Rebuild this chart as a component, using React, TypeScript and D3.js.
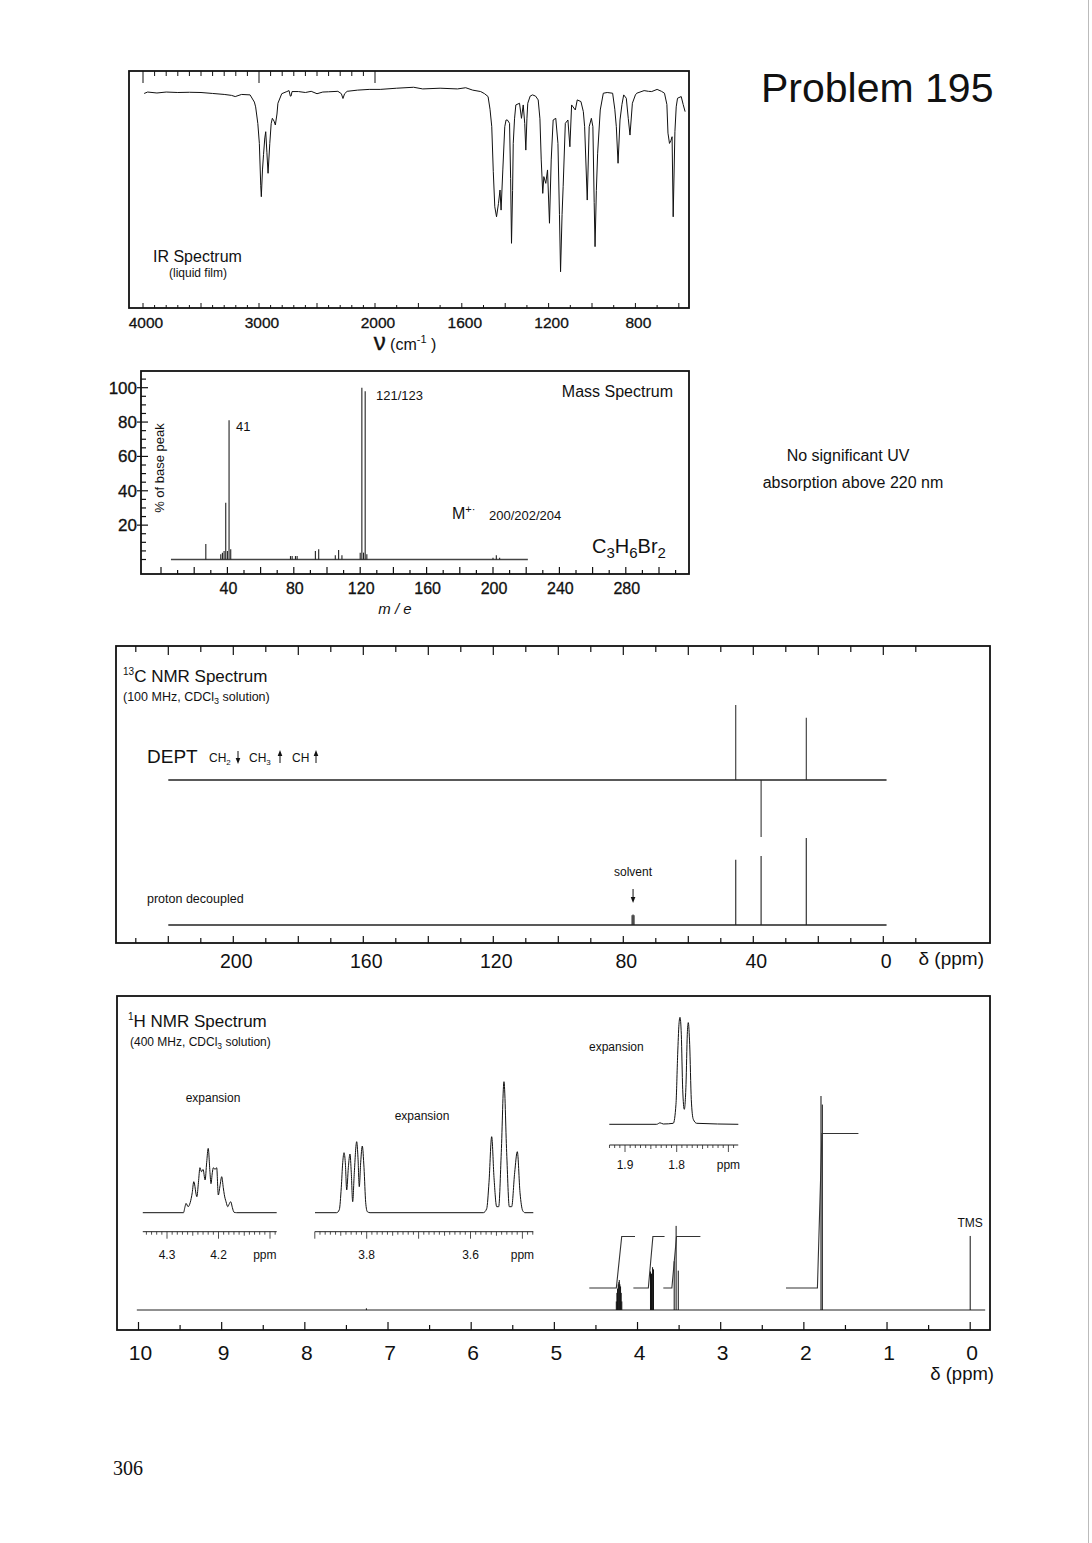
import React from "react";
import * as d3 from "d3";

const FONT = "'Liberation Sans', Arial, Helvetica, sans-serif";

// ---------------- IR spectrum: [wavenumber cm-1, transmittance %] ----------------
const irSpectrum: [number, number][] = [
  [3990, 90.6], [3960, 91.2], [3880, 90.8], [3800, 91.2], [3700, 91.0], [3600, 91.1], [3500, 91.0],
  [3400, 90.6], [3300, 90.2], [3237, 89.8], [3205, 89.3], [3150, 90.2], [3077, 90], [3040, 87],
  [3029, 85], [3010, 78], [2997, 69.7], [2985, 52], [2980, 47.4], [2970, 58.6], [2961, 65],
  [2950, 72], [2942, 74.6], [2932, 66], [2922, 57.2], [2907, 69.7], [2895, 78], [2885, 80.2],
  [2870, 79], [2859, 77.4], [2845, 82], [2837, 86.5], [2804, 90.5], [2760, 91.4], [2741, 91.8],
  [2730, 89.5], [2724, 89.5], [2715, 91.4], [2660, 91.4], [2600, 91], [2550, 91.5], [2500, 90.5],
  [2450, 91.2], [2400, 91.3], [2320, 91.5], [2290, 90.5], [2276, 88.5], [2262, 90.5], [2240, 91.5],
  [2150, 92], [2050, 92.3], [1976, 92.3], [1900, 92.8], [1822, 93.2], [1780, 92.5], [1700, 92.8],
  [1620, 92.5], [1582, 93], [1550, 92], [1513, 91.4], [1495, 90.5], [1479, 89.3], [1470, 84],
  [1462, 76.7], [1455, 58], [1448, 43.2], [1440, 39], [1431, 44.6], [1424, 50.2], [1419, 41.8],
  [1411, 58.6], [1402, 76.7], [1396, 79.5], [1390, 79.5], [1380, 78.1], [1375, 55], [1371, 27.9],
  [1366, 50], [1363, 69.7], [1357, 80], [1351, 85.8], [1334, 86.5], [1325, 80.2], [1317, 85.8],
  [1310, 78], [1305, 66.9], [1300, 80], [1296, 86.5], [1285, 89.5], [1274, 90.0], [1260, 89.5],
  [1248, 87.9], [1240, 80], [1234, 62.8], [1227, 48.8], [1222, 55.8], [1213, 53], [1205, 58.6],
  [1196, 36.3], [1188, 62.8], [1179, 79.5], [1167, 80.2], [1157, 69.7], [1150, 40], [1145, 16],
  [1138, 40], [1133, 51.6], [1123, 78.1], [1111, 79.5], [1102, 68.3], [1094, 85.8], [1077, 83.7],
  [1068, 87.9], [1051, 87.2], [1040, 83], [1034, 76.7], [1022, 46], [1013, 76.7], [1003, 80.2],
  [996, 76.7], [990, 45], [986, 26.5], [980, 50], [974, 65.6], [962, 83.7], [948, 90.7], [930, 91],
  [905, 90.7], [895, 84], [888, 76.7], [880, 61.4], [871, 79.5], [862, 86], [854, 90], [842, 88.6],
  [833, 80.2], [825, 73.2], [814, 86.5], [800, 90], [794, 90.7], [760, 91.8], [740, 91.5], [725, 91.4],
  [700, 92.3], [680, 91.5], [666, 90.7], [655, 86], [650, 74], [643, 69.7], [636, 71], [631, 72.5],
  [626, 39], [618, 74.6], [612, 85], [606, 88.6], [589, 89.3], [580, 86], [571, 83],
];
const irTickLabels = [4000, 3000, 2000, 1600, 1200, 800];

// ---------------- Mass spectrum ----------------
const massMz = [27, 36, 37, 38, 39, 40, 41, 42, 78, 79, 81, 82, 93, 95, 105, 107, 109, 120, 121, 122, 123, 124, 200, 202, 204];
const massAbundance = [9, 3, 4, 5, 33, 5, 81, 6, 2, 2, 2, 2, 5, 6, 2.5, 5.5, 2.5, 4, 100, 4, 98, 3, 1, 2.5, 1];
const massYLabels = [20, 40, 60, 80, 100];
const massXLabels = [40, 80, 120, 160, 200, 240, 280];

// ---------------- 13C NMR ----------------
const deptPpm = [45.4, 37.6, 23.7];
const deptIntensity = [100, -76, 83];
const decoupledPpm = [77.3, 77.0, 76.7, 45.4, 37.6, 23.7];
const decoupledIntensity = [13, 14, 13, 87, 92, 116];
const c13Labels = [200, 160, 120, 80, 40, 0];

// ---------------- 1H NMR ----------------
const hPpm = [7.26, 4.255, 4.248, 4.24, 4.232, 4.225, 4.219, 4.212, 4.204, 4.196, 4.189,
  3.844, 3.832, 3.819, 3.808, 3.559, 3.536, 3.51, 1.794, 1.778, 0.0];
const hIntensity = [0.8, 4, 8, 10, 12, 13, 14, 12, 11, 8, 4, 18, 17, 20, 19, 22.8, 39.3, 18.4, 100, 96, 34.6];
const hIntegrals: [number, number][][] = [
  [[4.58, 0], [4.255, 0], [4.19, 1], [4.03, 1]],
  [[4.05, 0], [3.87, 0], [3.815, 1], [3.675, 1]],
  [[3.69, 0], [3.587, 0], [3.531, 1], [3.244, 1]],
  [[2.215, 0], [1.837, 0], [1.783, 3], [1.344, 3]],
];
const hLabels = [10, 9, 8, 7, 6, 5, 4, 3, 2, 1, 0];

const inset1Trace: [number, number][] = [
  [4.347, 0], [4.268, 0], [4.265, 6], [4.263, 9.3], [4.259, 6], [4.255, 10], [4.251, 20], [4.248, 31],
  [4.242, 16], [4.239, 30], [4.236, 45], [4.233, 41], [4.23, 43.3], [4.226, 32.7], [4.223, 50],
  [4.22, 64.3], [4.2165, 40], [4.2146, 29], [4.212, 40], [4.21, 45], [4.2068, 43.3], [4.2035, 45],
  [4.2004, 17.7], [4.197, 27], [4.1938, 36], [4.1907, 25], [4.1887, 18], [4.1854, 11], [4.182, 6],
  [4.179, 9], [4.1763, 11], [4.173, 5], [4.17, 0.5], [4.1647, 0], [4.087, 0],
];
const inset2Trace: [number, number][] = [
  [3.8996, 0], [3.8578, 0], [3.8528, 3], [3.849, 25], [3.8462, 50], [3.8437, 60], [3.8412, 50],
  [3.8385, 22.7], [3.8354, 45], [3.8322, 58.7], [3.8297, 40], [3.827, 11], [3.8239, 40], [3.8193, 71],
  [3.8168, 55], [3.8143, 26], [3.8116, 50], [3.8085, 66.7], [3.8052, 45], [3.8019, 10], [3.7988, 1],
  [3.7936, 0], [3.5753, 0], [3.5688, 4], [3.5644, 30], [3.5592, 76], [3.5547, 35], [3.5495, 6],
  [3.5457, 6], [3.5407, 60], [3.5355, 131], [3.5303, 60], [3.5252, 6], [3.5207, 6], [3.5149, 40],
  [3.5098, 61], [3.5046, 20], [3.4994, 2], [3.495, 0], [3.479, 0],
];
const inset3Trace: [number, number][] = [
  [1.9304, 0], [1.8387, 0], [1.8323, 1.5], [1.8259, 0.3], [1.8066, 1], [1.8014, 20], [1.7981, 70],
  [1.7956, 100], [1.7936, 107], [1.7911, 90], [1.7884, 35], [1.7853, 15], [1.782, 40], [1.7795, 90],
  [1.7776, 101.7], [1.7749, 80], [1.7718, 25], [1.7679, 5], [1.7613, 1], [1.6808, 0],
];

type InsetProps = {
  trace: [number, number][];
  domain: [number, number];
  range: [number, number];
  extent: [number, number];
  baseY: number;
  rulerY: number;
  labels: number[];
  ppmAt: number;
  labelY: number;
};

function Inset({ trace, domain, range, extent, baseY, rulerY, labels, ppmAt, labelY }: InsetProps) {
  const x = d3.scaleLinear().domain(domain).range(range);
  const y = d3.scaleLinear().domain([0, 100]).range([baseY, baseY - 100]);
  const line = d3
    .line<[number, number]>()
    .x((d) => x(d[0]))
    .y((d) => y(d[1]))
    .curve(d3.curveMonotoneX);
  const lo = Math.ceil(extent[1] * 100);
  const hi = Math.floor(extent[0] * 100);
  const ticks = d3.range(lo, hi + 1);
  return (
    <g>
      <path d={line(trace) || ""} fill="none" stroke="#111" strokeWidth={1} />
      <line x1={x(extent[0])} x2={x(extent[1])} y1={rulerY} y2={rulerY} stroke="#222" strokeWidth={1} />
      {ticks.map((t) => {
        const len = t % 10 === 0 ? 7 : t % 5 === 0 ? 4 : 3;
        return <line key={t} x1={x(t / 100)} x2={x(t / 100)} y1={rulerY} y2={rulerY + len} stroke="#222" strokeWidth={0.8} />;
      })}
      {labels.map((l) => (
        <text key={l} x={x(l)} y={labelY} fontSize={12} textAnchor="middle" fill="#111">
          {l.toFixed(1)}
        </text>
      ))}
      <text x={x(ppmAt)} y={labelY} fontSize={12} textAnchor="middle" fill="#111">ppm</text>
    </g>
  );
}

function ArrowV({ x, y1, y2, up }: { x: number; y1: number; y2: number; up: boolean }) {
  const head = up
    ? `M${x - 2.3},${y1 + 6} L${x + 2.3},${y1 + 6} L${x},${y1} Z`
    : `M${x - 2.3},${y2 - 6} L${x + 2.3},${y2 - 6} L${x},${y2} Z`;
  return (
    <g>
      <line x1={x} x2={x} y1={up ? y1 + 4 : y1} y2={up ? y2 : y2 - 4} stroke="#111" strokeWidth={1} />
      <path d={head} fill="#111" />
    </g>
  );
}

export default function App() {
  const W = 1092;
  const H = 1543;

  // IR scales
  const xIR = d3.scaleLinear().domain([4000, 2000, 560]).range([143, 375, 687.5]);
  const yIR = d3.scaleLinear().domain([0, 100]).range([310, 71]);
  const irLine = d3.line<[number, number]>().x((d) => xIR(d[0])).y((d) => yIR(d[1]));
  const irTicks = d3.range(4000, 1999, -100).concat(d3.range(1900, 599, -100));
  const irFrame = { l: 129, t: 71, r: 689, b: 308 };

  // Mass scales
  const xMS = d3.scaleLinear().domain([0, 300]).range([161, 659]);
  const yMS = d3.scaleLinear().domain([0, 100]).range([559.5, 387.7]);
  const msFrame = { l: 141, t: 371, r: 689, b: 574 };

  // 13C scales
  const xC = d3.scaleLinear().domain([0, 200]).range([883.3, 233.3]);
  const cFrame = { l: 116, t: 646, r: 990, b: 943 };
  const deptBase = 780;
  const decBase = 925;
  const yCint = d3.scaleLinear().domain([0, 100]).range([0, 75]);

  // 1H scales
  const xH = d3.scaleLinear().domain([10, 0]).range([138.5, 970.2]);
  const hFrame = { l: 117, t: 996, r: 990, b: 1330 };
  const hBase = 1310;
  const yHint = d3.scaleLinear().domain([0, 100]).range([0, 214]);
  const yInteg = d3.scaleLinear().domain([0, 1]).range([1288, 1236.5]);
  const integLine = d3.line<[number, number]>().x((d) => xH(d[0])).y((d) => yInteg(d[1]));

  return (
    <svg
      width={W}
      height={H}
      style={{ position: "absolute", left: 0, top: 0, background: "#fff" }}
      fontFamily={FONT}
    >
      <rect x={0} y={0} width={W} height={H} fill="#fff" />
      <line x1={1088.5} x2={1088.5} y1={0} y2={H} stroke="#bbb" strokeWidth={1} />

      {/* Title */}
      <text x={761} y={102} fontSize={41} fill="#111">Problem 195</text>
      <text x={848} y={461} fontSize={16} textAnchor="middle" fill="#111">No significant UV</text>
      <text x={853} y={488} fontSize={16} textAnchor="middle" fill="#111">absorption above 220 nm</text>
      <text x={113} y={1475} fontSize={20} fontFamily="'Liberation Serif', 'Times New Roman', serif" fill="#111">306</text>

      {/* ================= IR ================= */}
      <g>
        <rect x={irFrame.l} y={irFrame.t} width={irFrame.r - irFrame.l} height={irFrame.b - irFrame.t} fill="none" stroke="#111" strokeWidth={1.8} />
        {irTicks.map((wn) => {
          const major = wn >= 2000 ? wn % 500 === 0 : wn % 200 === 0;
          return (
            <line key={"b" + wn} x1={xIR(wn)} x2={xIR(wn)} y1={irFrame.b} y2={irFrame.b - (major ? 5 : 3)} stroke="#111" strokeWidth={1} />
          );
        })}
        {irTicks.filter((wn) => wn >= 2000).map((wn) => (
          <line key={"t" + wn} x1={xIR(wn)} x2={xIR(wn)} y1={irFrame.t} y2={irFrame.t + (wn % 1000 === 0 ? 12 : 5)} stroke="#111" strokeWidth={1} />
        ))}
        <path d={irLine(irSpectrum) || ""} fill="none" stroke="#111" strokeWidth={1} />
        {irTickLabels.map((v) => (
          <text key={v} x={xIR(v) + 3} y={328} fontSize={15.5} textAnchor="middle" fill="#111" stroke="#111" strokeWidth={0.3}>{v}</text>
        ))}
        <text x={405} y={350} textAnchor="middle" fill="#111">
          <tspan fontSize={24} stroke="#111" strokeWidth={0.4}>ν</tspan>
          <tspan fontSize={16}>{"  (cm"}</tspan>
          <tspan fontSize={11} dy={-7}>-1</tspan>
          <tspan fontSize={16} dy={7}>{" )"}</tspan>
        </text>
        <text x={153} y={262} fontSize={16} fill="#111">IR Spectrum</text>
        <text x={169} y={277} fontSize={12} fill="#111">(liquid film)</text>
      </g>

      {/* ================= Mass ================= */}
      <g>
        <rect x={msFrame.l} y={msFrame.t} width={msFrame.r - msFrame.l} height={msFrame.b - msFrame.t} fill="none" stroke="#111" strokeWidth={1.8} />
        {d3.range(0, 106, 5).map((v) => {
          const major = v % 20 === 0 && v > 0;
          return (
            <line key={v} x1={major ? 137 : 141} x2={major ? 148 : 146} y1={yMS(v)} y2={yMS(v)} stroke="#111" strokeWidth={1.2} />
          );
        })}
        {massYLabels.map((v) => (
          <text key={v} x={137} y={yMS(v) + 6} fontSize={17} textAnchor="end" fill="#111" stroke="#111" strokeWidth={0.3}>{v}</text>
        ))}
        {d3.range(0, 311, 10).map((v) => (
          <line key={v} x1={xMS(v)} x2={xMS(v)} y1={msFrame.b} y2={msFrame.b - (v % 20 === 0 ? 7 : 4)} stroke="#111" strokeWidth={1.2} />
        ))}
        {massXLabels.map((v) => (
          <text key={v} x={xMS(v) + 1} y={594} fontSize={16} textAnchor="middle" fill="#111" stroke="#111" strokeWidth={0.3}>{v}</text>
        ))}
        <text x={395} y={614} fontSize={15} fontStyle="italic" textAnchor="middle" fill="#111">m / e</text>
        <text transform="translate(164,468) rotate(-90)" fontSize={13} textAnchor="middle" fill="#111">% of base peak</text>
        <line x1={xMS(6)} x2={xMS(221)} y1={yMS(0)} y2={yMS(0)} stroke="#444" strokeWidth={1.3} />
        {massMz.map((m, i) => (
          <line key={m} x1={xMS(m)} x2={xMS(m)} y1={yMS(0)} y2={yMS(massAbundance[i])} stroke="#222" strokeWidth={1.1} />
        ))}
        <text x={236} y={431} fontSize={13} fill="#111">41</text>
        <text x={376} y={400} fontSize={13} fill="#111">121/123</text>
        <text x={673} y={397} fontSize={16} textAnchor="end" fill="#111">Mass Spectrum</text>
        <text x={452} y={519} fill="#111">
          <tspan fontSize={16}>M</tspan>
          <tspan fontSize={11} dy={-6}>+·</tspan>
        </text>
        <text x={489} y={520} fontSize={13} fill="#111">200/202/204</text>
        <text x={592} y={553} fill="#111">
          <tspan fontSize={20}>C</tspan>
          <tspan fontSize={15} dy={5}>3</tspan>
          <tspan fontSize={20} dy={-5}>H</tspan>
          <tspan fontSize={15} dy={5}>6</tspan>
          <tspan fontSize={20} dy={-5}>Br</tspan>
          <tspan fontSize={15} dy={5}>2</tspan>
        </text>
      </g>

      {/* ================= 13C NMR ================= */}
      <g>
        <rect x={cFrame.l} y={cFrame.t} width={cFrame.r - cFrame.l} height={cFrame.b - cFrame.t} fill="none" stroke="#111" strokeWidth={1.8} />
        {d3.range(-10, 231, 10).map((v) => (
          <g key={v}>
            <line x1={xC(v)} x2={xC(v)} y1={cFrame.b} y2={cFrame.b - (v % 20 === 0 ? 7 : 5)} stroke="#111" strokeWidth={1.2} />
            <line x1={xC(v)} x2={xC(v)} y1={cFrame.t} y2={cFrame.t + (v % 20 === 0 ? 9 : 6)} stroke="#111" strokeWidth={1.2} />
          </g>
        ))}
        {c13Labels.map((v) => (
          <text key={v} x={xC(v) + 3} y={968} fontSize={19.5} textAnchor="middle" fill="#111">{v}</text>
        ))}
        <text x={984} y={965} fontSize={19} textAnchor="end" fill="#111">δ (ppm)</text>

        <text x={123} y={682} fill="#111">
          <tspan fontSize={10} dy={-7}>13</tspan>
          <tspan fontSize={17} dy={7}>C NMR Spectrum</tspan>
        </text>
        <text x={123} y={701} fontSize={12.5} fill="#111">
          (100 MHz, CDCl<tspan fontSize={9} dy={3}>3</tspan>
          <tspan dy={-3}> solution)</tspan>
        </text>
        <text x={147} y={763} fontSize={19} fill="#111">DEPT</text>
        <text x={209} y={762} fontSize={12} fill="#111">
          CH<tspan fontSize={8} dy={3}>2</tspan>
        </text>
        <ArrowV x={238} y1={751} y2={764} up={false} />
        <text x={249} y={762} fontSize={12} fill="#111">
          CH<tspan fontSize={8} dy={3}>3</tspan>
        </text>
        <ArrowV x={280} y1={750} y2={763} up={true} />
        <text x={292} y={762} fontSize={12} fill="#111">CH</text>
        <ArrowV x={316} y1={750} y2={763} up={true} />

        {/* DEPT trace */}
        <line x1={xC(220)} x2={xC(-1)} y1={deptBase} y2={deptBase} stroke="#222" strokeWidth={1.6} />
        {deptPpm.map((p, i) => (
          <line key={p} x1={xC(p)} x2={xC(p)} y1={deptBase} y2={deptBase - yCint(deptIntensity[i])} stroke="#222" strokeWidth={1} />
        ))}

        {/* proton decoupled trace */}
        <text x={147} y={903} fontSize={12.5} fill="#111">proton decoupled</text>
        <line x1={xC(220)} x2={xC(-1)} y1={decBase} y2={decBase} stroke="#222" strokeWidth={1.6} />
        {decoupledPpm.map((p, i) => (
          <line key={p} x1={xC(p)} x2={xC(p)} y1={decBase} y2={decBase - yCint(decoupledIntensity[i])} stroke="#222" strokeWidth={1.1} />
        ))}
        <text x={xC(77)} y={876} fontSize={12} textAnchor="middle" fill="#111">solvent</text>
        <ArrowV x={xC(77)} y1={889} y2={903} up={false} />
      </g>

      {/* ================= 1H NMR ================= */}
      <g>
        <rect x={hFrame.l} y={hFrame.t} width={hFrame.r - hFrame.l} height={hFrame.b - hFrame.t} fill="none" stroke="#111" strokeWidth={1.8} />
        {d3.range(0, 10.01, 0.5).map((v) => (
          <line key={v} x1={xH(v)} x2={xH(v)} y1={hFrame.b} y2={hFrame.b - (Number.isInteger(v) ? 8 : 5)} stroke="#111" strokeWidth={1.2} />
        ))}
        {hLabels.map((v) => (
          <text key={v} x={xH(v) + 2} y={1360} fontSize={21} textAnchor="middle" fill="#111">{v}</text>
        ))}
        <text x={994} y={1380} fontSize={18.5} textAnchor="end" fill="#111">δ (ppm)</text>

        <text x={128} y={1027} fill="#111">
          <tspan fontSize={10} dy={-7}>1</tspan>
          <tspan fontSize={17} dy={7}>H NMR Spectrum</tspan>
        </text>
        <text x={130} y={1046} fontSize={12} fill="#111">
          (400 MHz, CDCl<tspan fontSize={8.5} dy={3}>3</tspan>
          <tspan dy={-3}> solution)</tspan>
        </text>

        {/* main trace */}
        <line x1={xH(10.02)} x2={xH(-0.18)} y1={hBase} y2={hBase} stroke="#222" strokeWidth={1.1} />
        {hPpm.map((p, i) => (
          <line key={p} x1={xH(p)} x2={xH(p)} y1={hBase} y2={hBase - yHint(hIntensity[i])} stroke="#111" strokeWidth={1} />
        ))}
        {hIntegrals.map((seg, i) => (
          <path key={i} d={integLine(seg) || ""} fill="none" stroke="#333" strokeWidth={1.1} />
        ))}
        <text x={xH(0)} y={1227} fontSize={12} textAnchor="middle" fill="#111">TMS</text>

        {/* expansions */}
        <text x={213} y={1102} fontSize={12} textAnchor="middle" fill="#111">expansion</text>
        <Inset trace={inset1Trace} domain={[4.3, 4.2]} range={[167, 218.5]} extent={[4.347, 4.087]} baseY={1212.7} rulerY={1231.7} labels={[4.3, 4.2]} ppmAt={4.11} labelY={1259} />
        <text x={422} y={1120} fontSize={12} textAnchor="middle" fill="#111">expansion</text>
        <Inset trace={inset2Trace} domain={[3.8, 3.6]} range={[366.7, 470.5]} extent={[3.9, 3.479]} baseY={1212.7} rulerY={1231.7} labels={[3.8, 3.6]} ppmAt={3.5} labelY={1259} />
        <text x={589} y={1051} fontSize={12} fill="#111">expansion</text>
        <Inset trace={inset3Trace} domain={[1.9, 1.8]} range={[625, 676.7]} extent={[1.93, 1.681]} baseY={1124.3} rulerY={1145} labels={[1.9, 1.8]} ppmAt={1.7} labelY={1169} />
      </g>
    </svg>
  );
}
